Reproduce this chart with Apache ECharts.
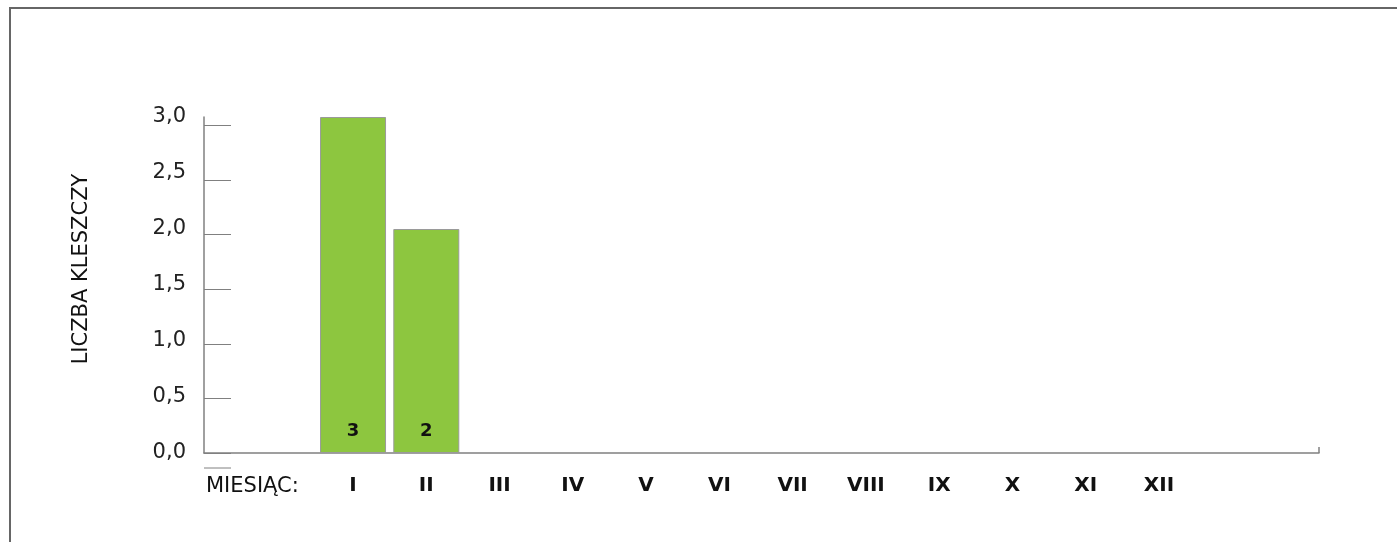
<!DOCTYPE html>
<html>
<head>
<meta charset="utf-8">
<style>
	html, body { margin: 0; padding: 0; background: #fff; }
	#frame { position: absolute; left: 9px; top: 7px; right: 0; bottom: 0; border-top: 2px solid #666; border-left: 2px solid #666; }
	#main { position: absolute; left: 0; top: 0; width: 1397px; height: 542px; }
</style>
<script src="https://cdn.jsdelivr.net/npm/echarts@6/dist/echarts.min.js"></script>
</head>
<body>
<div id="frame"></div>
<div id="main"></div>
<script>
	// miesiące i liczba kleszczy
	var months = ['I', 'II', 'III', 'IV', 'V', 'VI', 'VII', 'VIII', 'IX', 'X', 'XI', 'XII'];
	var ticks = [3, 2, null, null, null, null, null, null, null, null, null, null];
	var yLabels = [0, 0.5, 1, 1.5, 2, 2.5, 3];
	var yMax = 3;
	// kreski podziałki w oryginale leżą na nieco innej skali niż słupki
	var tickMax = 3.078;

	var myChart = echarts.init(document.getElementById('main'));
	var option = {
		animation: false,
		grid: [
			{left: 204, right: 78, top: 117, bottom: 89},
			{left: 316.4, right: 201.4, top: 117, bottom: 89}
		],
		xAxis: [{
			gridIndex: 0, type: 'value', min: 0, max: 1,
			axisLine: {lineStyle: {color: '#808080', width: 1.5}},
			axisTick: {show: true, inside: true, length: 6, customValues: [1], lineStyle: {color: '#808080', width: 1.5}},
			axisLabel: {show: false},
			splitLine: {show: false}
		}, {
			gridIndex: 1, type: 'category', data: months,
			axisLine: {show: false},
			axisTick: {show: false},
			axisLabel: {margin: 23, fontFamily: 'DejaVu Sans', fontWeight: 'bold', fontSize: 20, color: '#111'}
		}],
		yAxis: [{
			gridIndex: 0, type: 'value', position: 'left', min: 0, max: yMax,
			name: 'LICZBA KLESZCZY', nameLocation: 'middle', nameGap: 112,
			nameTextStyle: {fontFamily: 'DejaVu Sans', fontSize: 21, color: '#111', padding: [0, 0, 0, 32]},
			axisLine: {show: true, lineStyle: {color: '#808080', width: 1.5}},
			axisTick: {show: false},
			axisLabel: {customValues: yLabels, margin: 18, fontFamily: 'DejaVu Sans', fontSize: 21, color: '#222',
				formatter: function (v) { return v.toFixed(1).replace('.', ','); }},
			splitLine: {show: false}
		}, {
			gridIndex: 1, type: 'value', min: 0, max: yMax, show: false
		}, {
			gridIndex: 0, type: 'value', position: 'left', min: 0, max: tickMax,
			axisLine: {show: false},
			axisTick: {show: true, inside: true, length: 27, customValues: yLabels, lineStyle: {color: '#808080', width: 1}},
			axisLabel: {show: false},
			splitLine: {show: false}
		}],
		graphic: [
			{type: 'line', shape: {x1: 204, y1: 468, x2: 231, y2: 468}, style: {stroke: '#808080', lineWidth: 1}},
			{type: 'text', left: 206, top: 476, style: {text: 'MIESIĄC:', font: '21px "DejaVu Sans"', fill: '#111'}}
		],
		series: [{
			type: 'bar', xAxisIndex: 1, yAxisIndex: 1,
			data: ticks, barWidth: 66,
			itemStyle: {color: '#8dc63f', borderColor: '#9a9a9a', borderWidth: 1},
			label: {show: true, position: 'insideBottom', distance: 13, fontFamily: 'DejaVu Sans', fontWeight: 'bold', fontSize: 18, color: '#111'}
		}]
	};
	myChart.setOption(option);
</script>
</body>
</html>
